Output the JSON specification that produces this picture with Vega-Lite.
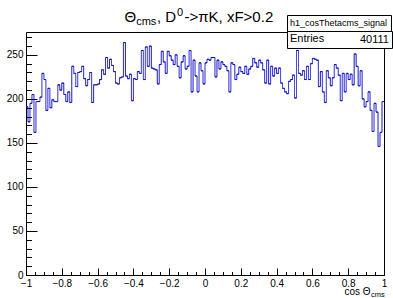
{
"$schema":"https://vega.github.io/schema/vega-lite/v6.json",
"width":358,"height":243,
"autosize":{"type":"none"},
"padding":{"left":26,"top":32,"right":9,"bottom":23},
"background":"white",
"config":{"view":{"stroke":"black","strokeWidth":1},"font":"Liberation Sans"},
"data":{"values":[
{"lo":-1,"hi":-0.9889,"n":191},{"lo":-0.9889,"hi":-0.9778,"n":174},{"lo":-0.9778,"hi":-0.9667,"n":195},{"lo":-0.9667,"hi":-0.9556,"n":205},{"lo":-0.9556,"hi":-0.9444,"n":162},{"lo":-0.9444,"hi":-0.9333,"n":197},{"lo":-0.9333,"hi":-0.9222,"n":197},{"lo":-0.9222,"hi":-0.9111,"n":202},{"lo":-0.9111,"hi":-0.9,"n":229},
{"lo":-0.9,"hi":-0.8889,"n":222},{"lo":-0.8889,"hi":-0.8778,"n":187},{"lo":-0.8778,"hi":-0.8667,"n":212},{"lo":-0.8667,"hi":-0.8556,"n":190},{"lo":-0.8556,"hi":-0.8444,"n":199},{"lo":-0.8444,"hi":-0.8333,"n":197},{"lo":-0.8333,"hi":-0.8222,"n":197},{"lo":-0.8222,"hi":-0.8111,"n":216},{"lo":-0.8111,"hi":-0.8,"n":210},
{"lo":-0.8,"hi":-0.7889,"n":218},{"lo":-0.7889,"hi":-0.7778,"n":205},{"lo":-0.7778,"hi":-0.7667,"n":197},{"lo":-0.7667,"hi":-0.7556,"n":208},{"lo":-0.7556,"hi":-0.7444,"n":196},{"lo":-0.7444,"hi":-0.7333,"n":237},{"lo":-0.7333,"hi":-0.7222,"n":229},{"lo":-0.7222,"hi":-0.7111,"n":214},{"lo":-0.7111,"hi":-0.7,"n":230},
{"lo":-0.7,"hi":-0.6889,"n":231},{"lo":-0.6889,"hi":-0.6778,"n":237},{"lo":-0.6778,"hi":-0.6667,"n":223},{"lo":-0.6667,"hi":-0.6556,"n":215},{"lo":-0.6556,"hi":-0.6444,"n":222},{"lo":-0.6444,"hi":-0.6333,"n":230},{"lo":-0.6333,"hi":-0.6222,"n":196},{"lo":-0.6222,"hi":-0.6111,"n":216},{"lo":-0.6111,"hi":-0.6,"n":216},
{"lo":-0.6,"hi":-0.5889,"n":217},{"lo":-0.5889,"hi":-0.5778,"n":222},{"lo":-0.5778,"hi":-0.5667,"n":233},{"lo":-0.5667,"hi":-0.5556,"n":228},{"lo":-0.5556,"hi":-0.5444,"n":247},{"lo":-0.5444,"hi":-0.5333,"n":235},{"lo":-0.5333,"hi":-0.5222,"n":245},{"lo":-0.5222,"hi":-0.5111,"n":238},{"lo":-0.5111,"hi":-0.5,"n":231},
{"lo":-0.5,"hi":-0.4889,"n":218},{"lo":-0.4889,"hi":-0.4778,"n":217},{"lo":-0.4778,"hi":-0.4667,"n":224},{"lo":-0.4667,"hi":-0.4556,"n":225},{"lo":-0.4556,"hi":-0.4444,"n":264},{"lo":-0.4444,"hi":-0.4333,"n":226},{"lo":-0.4333,"hi":-0.4222,"n":223},{"lo":-0.4222,"hi":-0.4111,"n":228},{"lo":-0.4111,"hi":-0.4,"n":198},
{"lo":-0.4,"hi":-0.3889,"n":223},{"lo":-0.3889,"hi":-0.3778,"n":222},{"lo":-0.3778,"hi":-0.3667,"n":231},{"lo":-0.3667,"hi":-0.3556,"n":229},{"lo":-0.3556,"hi":-0.3444,"n":255},{"lo":-0.3444,"hi":-0.3333,"n":222},{"lo":-0.3333,"hi":-0.3222,"n":259},{"lo":-0.3222,"hi":-0.3111,"n":237},{"lo":-0.3111,"hi":-0.3,"n":260},
{"lo":-0.3,"hi":-0.2889,"n":235},{"lo":-0.2889,"hi":-0.2778,"n":234},{"lo":-0.2778,"hi":-0.2667,"n":233},{"lo":-0.2667,"hi":-0.2556,"n":217},{"lo":-0.2556,"hi":-0.2444,"n":239},{"lo":-0.2444,"hi":-0.2333,"n":254},{"lo":-0.2333,"hi":-0.2222,"n":242},{"lo":-0.2222,"hi":-0.2111,"n":229},{"lo":-0.2111,"hi":-0.2,"n":254},
{"lo":-0.2,"hi":-0.1889,"n":249},{"lo":-0.1889,"hi":-0.1778,"n":244},{"lo":-0.1778,"hi":-0.1667,"n":239},{"lo":-0.1667,"hi":-0.1556,"n":250},{"lo":-0.1556,"hi":-0.1444,"n":237},{"lo":-0.1444,"hi":-0.1333,"n":224},{"lo":-0.1333,"hi":-0.1222,"n":242},{"lo":-0.1222,"hi":-0.1111,"n":249},{"lo":-0.1111,"hi":-0.1,"n":234},
{"lo":-0.1,"hi":-0.0889,"n":237},{"lo":-0.0889,"hi":-0.0778,"n":255},{"lo":-0.0778,"hi":-0.0667,"n":208},{"lo":-0.0667,"hi":-0.0556,"n":244},{"lo":-0.0556,"hi":-0.0444,"n":226},{"lo":-0.0444,"hi":-0.0333,"n":208},{"lo":-0.0333,"hi":-0.0222,"n":241},{"lo":-0.0222,"hi":-0.0111,"n":232},{"lo":-0.0111,"hi":0,"n":217},
{"lo":0,"hi":0.0111,"n":241},{"lo":0.0111,"hi":0.0222,"n":245},{"lo":0.0222,"hi":0.0333,"n":244},{"lo":0.0333,"hi":0.0444,"n":247},{"lo":0.0444,"hi":0.0556,"n":247},{"lo":0.0556,"hi":0.0667,"n":225},{"lo":0.0667,"hi":0.0778,"n":244},{"lo":0.0778,"hi":0.0889,"n":234},{"lo":0.0889,"hi":0.1,"n":242},
{"lo":0.1,"hi":0.1111,"n":239},{"lo":0.1111,"hi":0.1222,"n":237},{"lo":0.1222,"hi":0.1333,"n":232},{"lo":0.1333,"hi":0.1444,"n":208},{"lo":0.1444,"hi":0.1556,"n":241},{"lo":0.1556,"hi":0.1667,"n":239},{"lo":0.1667,"hi":0.1778,"n":222},{"lo":0.1778,"hi":0.1889,"n":228},{"lo":0.1889,"hi":0.2,"n":236},
{"lo":0.2,"hi":0.2111,"n":231},{"lo":0.2111,"hi":0.2222,"n":229},{"lo":0.2222,"hi":0.2333,"n":237},{"lo":0.2333,"hi":0.2444,"n":228},{"lo":0.2444,"hi":0.2556,"n":234},{"lo":0.2556,"hi":0.2667,"n":237},{"lo":0.2667,"hi":0.2778,"n":246},{"lo":0.2778,"hi":0.2889,"n":241},{"lo":0.2889,"hi":0.3,"n":236},
{"lo":0.3,"hi":0.3111,"n":244},{"lo":0.3111,"hi":0.3222,"n":241},{"lo":0.3222,"hi":0.3333,"n":233},{"lo":0.3333,"hi":0.3444,"n":218},{"lo":0.3444,"hi":0.3556,"n":244},{"lo":0.3556,"hi":0.3667,"n":217},{"lo":0.3667,"hi":0.3778,"n":237},{"lo":0.3778,"hi":0.3889,"n":226},{"lo":0.3889,"hi":0.4,"n":235},
{"lo":0.4,"hi":0.4111,"n":229},{"lo":0.4111,"hi":0.4222,"n":235},{"lo":0.4222,"hi":0.4333,"n":218},{"lo":0.4333,"hi":0.4444,"n":212},{"lo":0.4444,"hi":0.4556,"n":208},{"lo":0.4556,"hi":0.4667,"n":206},{"lo":0.4667,"hi":0.4778,"n":220},{"lo":0.4778,"hi":0.4889,"n":222},{"lo":0.4889,"hi":0.5,"n":227},
{"lo":0.5,"hi":0.5111,"n":201},{"lo":0.5111,"hi":0.5222,"n":255},{"lo":0.5222,"hi":0.5333,"n":229},{"lo":0.5333,"hi":0.5444,"n":227},{"lo":0.5444,"hi":0.5556,"n":232},{"lo":0.5556,"hi":0.5667,"n":222},{"lo":0.5667,"hi":0.5778,"n":237},{"lo":0.5778,"hi":0.5889,"n":222},{"lo":0.5889,"hi":0.6,"n":240},
{"lo":0.6,"hi":0.6111,"n":246},{"lo":0.6111,"hi":0.6222,"n":245},{"lo":0.6222,"hi":0.6333,"n":244},{"lo":0.6333,"hi":0.6444,"n":214},{"lo":0.6444,"hi":0.6556,"n":231},{"lo":0.6556,"hi":0.6667,"n":208},{"lo":0.6667,"hi":0.6778,"n":196},{"lo":0.6778,"hi":0.6889,"n":232},{"lo":0.6889,"hi":0.7,"n":224},
{"lo":0.7,"hi":0.7111,"n":215},{"lo":0.7111,"hi":0.7222,"n":224},{"lo":0.7222,"hi":0.7333,"n":239},{"lo":0.7333,"hi":0.7444,"n":235},{"lo":0.7444,"hi":0.7556,"n":227},{"lo":0.7556,"hi":0.7667,"n":198},{"lo":0.7667,"hi":0.7778,"n":229},{"lo":0.7778,"hi":0.7889,"n":208},{"lo":0.7889,"hi":0.8,"n":229},
{"lo":0.8,"hi":0.8111,"n":222},{"lo":0.8111,"hi":0.8222,"n":228},{"lo":0.8222,"hi":0.8333,"n":216},{"lo":0.8333,"hi":0.8444,"n":251},{"lo":0.8444,"hi":0.8556,"n":237},{"lo":0.8556,"hi":0.8667,"n":215},{"lo":0.8667,"hi":0.8778,"n":232},{"lo":0.8778,"hi":0.8889,"n":200},{"lo":0.8889,"hi":0.9,"n":191},
{"lo":0.9,"hi":0.9111,"n":197},{"lo":0.9111,"hi":0.9222,"n":208},{"lo":0.9222,"hi":0.9333,"n":187},{"lo":0.9333,"hi":0.9444,"n":163},{"lo":0.9444,"hi":0.9556,"n":195},{"lo":0.9556,"hi":0.9667,"n":185},{"lo":0.9667,"hi":0.9778,"n":146},{"lo":0.9778,"hi":0.9889,"n":162},{"lo":0.9889,"hi":1,"n":197}
]},
"layer":[
{"mark":{"type":"rule","strokeWidth":1},
 "encoding":{
  "x":{"field":"lo","type":"quantitative","scale":{"domain":[-1,1],"nice":false,"zero":false},
   "axis":{"orient":"bottom","offset":-7,"tickSize":7,"values":[-1,-0.8,-0.6,-0.4,-0.2,0,0.2,0.4,0.6,0.8,1],"format":"~g",
    "tickColor":"black","tickWidth":1,"domain":false,"grid":false,
    "labelFont":"Liberation Sans","labelFontSize":10,"labelColor":"black","labelPadding":3,"labelFlush":false,"labelOverlap":false,"labelBound":false,
    "title":"cos Θ","titleX":344,"titleY":26.5,"titleAlign":"right","titleBaseline":"alphabetic","titleFontSize":10,"titleFontWeight":"normal","titleColor":"black","titleFont":"Liberation Sans"}},
  "x2":{"field":"hi"},
  "y":{"field":"n","type":"quantitative","scale":{"domain":[0,276],"nice":false,"zero":true},
   "axis":{"orient":"left","offset":-11,"tickSize":11,"values":[0,50,100,150,200,250],"format":"d",
    "tickColor":"black","tickWidth":1,"domain":false,"grid":false,
    "labelFont":"Liberation Sans","labelFontSize":10,"labelColor":"black","labelPadding":3,"labelOverlap":false,"labelFlush":false,"labelBound":false,
    "title":"Θ\u00a0\u00a0\u00a0\u00a0\u00a0, D\u00a0\u00a0->πK, xF>0.2","titleAngle":0,"titleX":87,"titleY":-11,"titleAlign":"left","titleBaseline":"alphabetic","titleFontSize":15,"titleFontWeight":"normal","titleColor":"black","titleFont":"Liberation Sans","titleLimit":400}},
  "color":{"datum":"h1_cosThetacms_signal","type":"nominal","scale":{"range":["#1010c8"]},
   "legend":{"orient":"none","legendX":261,"legendY":-17,"title":null,"fillColor":"white","strokeColor":"black","padding":3,"cornerRadius":0,"symbolType":"circle","symbolSize":0,"symbolOpacity":0,"symbolStrokeWidth":0,"labelFontSize":9,"labelFont":"Liberation Sans","labelColor":"black","labelOffset":-9,"labelLimit":200}}
 }},
{"mark":{"type":"line","interpolate":"step-after","strokeWidth":1,"color":"#1010c8"},
 "encoding":{
  "x":{"field":"lo","type":"quantitative",
   "axis":{"orient":"bottom","offset":-3.5,"tickSize":3.5,"values":[-1,-0.95,-0.9,-0.85,-0.8,-0.75,-0.7,-0.65,-0.6,-0.55,-0.5,-0.45,-0.4,-0.35,-0.3,-0.25,-0.2,-0.15,-0.1,-0.05,0,0.05,0.1,0.15,0.2,0.25,0.3,0.35,0.4,0.45,0.5,0.55,0.6,0.65,0.7,0.75,0.8,0.85,0.9,0.95,1],
    "tickColor":"black","tickWidth":1,"domain":false,"labels":false,"grid":false,
    "title":"cms","titleX":344.5,"titleY":25,"titleAlign":"left","titleBaseline":"alphabetic","titleFontSize":7.5,"titleFontWeight":"normal","titleColor":"black","titleFont":"Liberation Sans"}},
  "y":{"field":"n","type":"quantitative",
   "axis":{"orient":"left","offset":-5.5,"tickSize":5.5,"values":[0,10,20,30,40,50,60,70,80,90,100,110,120,130,140,150,160,170,180,190,200,210,220,230,240,250,260,270],
    "tickColor":"black","tickWidth":1,"domain":false,"labels":false,"grid":false,
    "title":"cms","titleAngle":0,"titleX":104.2,"titleY":-7.5,"titleAlign":"left","titleBaseline":"alphabetic","titleFontSize":11,"titleFontWeight":"normal","titleColor":"black","titleFont":"Liberation Sans"}},
  "strokeDash":{"datum":"40111","type":"nominal","scale":{"range":[[1,0]]},
   "legend":{"orient":"none","legendX":261,"legendY":-1,"title":"Entries","titleOrient":"left","titleFontSize":11,"titleFontWeight":"normal","titleColor":"black","titleFont":"Liberation Sans","titlePadding":33,"fillColor":"white","strokeColor":"black","padding":3,"cornerRadius":0,"symbolType":"circle","symbolSize":0,"symbolOpacity":0,"symbolStrokeWidth":0,"labelFontSize":11,"labelFont":"Liberation Sans","labelColor":"black","labelOffset":-9}}
 }},
{"mark":{"type":"line","interpolate":"step-after","opacity":0},
 "encoding":{
  "x":{"field":"lo","type":"quantitative",
   "axis":{"orient":"top","domain":false,"ticks":false,"labels":false,"grid":false,
    "title":"0","titleX":150.5,"titleY":-16.5,"titleAlign":"left","titleBaseline":"alphabetic","titleFontSize":11,"titleFontWeight":"normal","titleColor":"black","titleFont":"Liberation Sans"}},
  "y":{"field":"n","type":"quantitative","axis":null}
 }}
],
"resolve":{"axis":{"x":"independent","y":"independent"}}
}
